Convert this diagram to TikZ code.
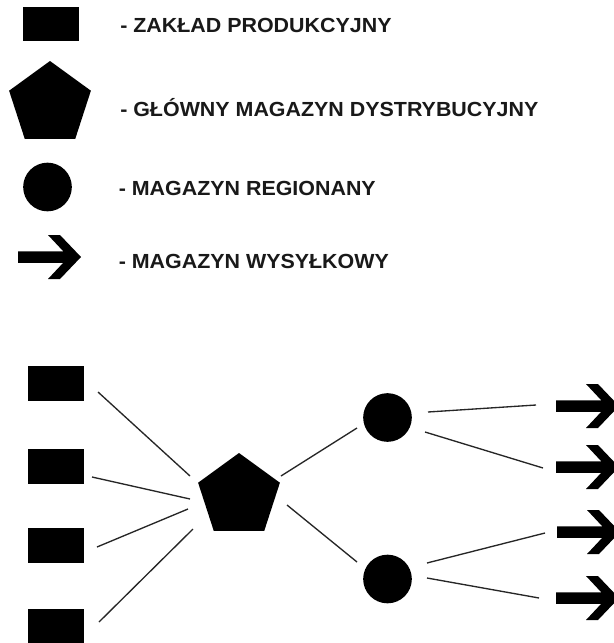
\documentclass[tikz,border=0pt]{standalone}
\usepackage{fontspec}
\setmainfont{Liberation Sans}[FakeStretch=1.05]
\usetikzlibrary{shapes.geometric}
\tikzset{
  conn/.style={draw=black!85, line width=1pt},
  plant/.style={rectangle, fill=black, minimum width=42pt, minimum height=25.5pt, inner sep=0pt, outer sep=0pt},
  hub/.style={regular polygon, regular polygon sides=5, fill=black, minimum size=64.5pt, inner sep=0pt, outer sep=0pt},
  region/.style={circle, fill=black, minimum size=36.5pt, inner sep=0pt, outer sep=0pt},
  legendtext/.style={anchor=base west, inner sep=0pt, text=black!90, font=\fontsize{15.3pt}{18pt}\selectfont\bfseries},
  shiparrow/.pic={\fill[black] (0,-5.75) -- (45.25,-5.75) -- (30,-22) -- (42,-22) -- (63,0) -- (42,22) -- (30,22) -- (45.25,5.75) -- (0,5.75) -- cycle;}
}
\begin{document}
\begin{tikzpicture}[x=0.75pt,y=-0.75pt]
\useasboundingbox (0,0) rectangle (614,643);
\clip (0,0) rectangle (614,643);
\fill[white] (0,0) rectangle (614,643);

% legend
\node[plant] (lr) at (51,24) {};
\node[hub] (lp) at (50,104) {};
\node[region] (lc) at (47.5,187) {};
\coordinate (la) at (18,257);
\pic at (la) {shiparrow};

\node[legendtext] (t1) at (120,32) {- ZAKŁAD PRODUKCYJNY};
\node[legendtext] (t2) at (120,116) {- GŁÓWNY MAGAZYN DYSTRYBUCYJNY};
\node[legendtext] (t3) at (118.5,195) {- MAGAZYN REGIONANY};
\node[legendtext] (t4) at (118.5,268) {- MAGAZYN WYSYŁKOWY};

% network
\node[plant, minimum height=26.25pt] (r1) at (56,383.5) {};
\node[plant, minimum height=26.25pt] (r2) at (56,466) {};
\node[plant, minimum height=26.25pt] (r3) at (56,545) {};
\node[plant, minimum height=26.25pt] (r4) at (56,626.5) {};
\node[hub] (p) at (239,496) {};
\node[region] (c1) at (387.5,417.5) {};
\node[region] (c2) at (387.5,579) {};
\coordinate (a1) at (556,406);
\coordinate (a2) at (556,467);
\coordinate (a3) at (557,532);
\coordinate (a4) at (556,598);
\foreach \a in {a1,a2,a3,a4} {\pic at (\a) {shiparrow};}

% connector ends
\coordinate (r1o) at (98,392);   \coordinate (p1i) at (190,476);
\coordinate (r2o) at (92,477);   \coordinate (p2i) at (190,499);
\coordinate (r3o) at (97,547);   \coordinate (p3i) at (188,509);
\coordinate (r4o) at (99,622);   \coordinate (p4i) at (193,529);
\coordinate (po1) at (281,476);  \coordinate (c1i) at (357,428);
\coordinate (po2) at (287,505);  \coordinate (c2i) at (357,562);
\coordinate (c1o1) at (428,412); \coordinate (a1i) at (536,405);
\coordinate (c1o2) at (425,432); \coordinate (a2i) at (543,468);
\coordinate (c2o1) at (427,563); \coordinate (a3i) at (545,533);
\coordinate (c2o2) at (427,578); \coordinate (a4i) at (539,598);

\draw[conn] (r1o) -- (p1i);
\draw[conn] (r2o) -- (p2i);
\draw[conn] (r3o) -- (p3i);
\draw[conn] (r4o) -- (p4i);
\draw[conn] (po1) -- (c1i);
\draw[conn] (po2) -- (c2i);
\draw[conn] (c1o1) -- (a1i);
\draw[conn] (c1o2) -- (a2i);
\draw[conn] (c2o1) -- (a3i);
\draw[conn] (c2o2) -- (a4i);
\end{tikzpicture}
\end{document}
